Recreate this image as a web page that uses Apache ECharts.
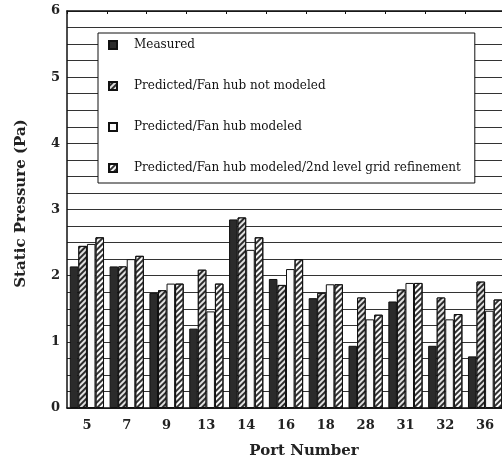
<!DOCTYPE html>
<html>
<head>
<meta charset="utf-8">
<script src="https://cdn.jsdelivr.net/npm/echarts@6/dist/echarts.min.js"></script>
<style>html,body{margin:0;padding:0;background:#fff}#c{width:502px;height:461px}</style>
</head>
<body>
<div id="c"></div>
<script>
var ports = ['5', '7', '9', '13', '14', '16', '18', '28', '31', '32', '36'];
var measured = [2.14, 2.14, 1.74, 1.20, 2.85, 1.95, 1.66, 0.94, 1.61, 0.94, 0.78];
var hubNotModeled = [2.45, 2.14, 1.78, 2.09, 2.88, 1.86, 1.74, 1.67, 1.79, 1.67, 1.91];
var hubModeled = [2.48, 2.25, 1.88, 1.46, 2.39, 2.10, 1.87, 1.34, 1.89, 1.34, 1.47];
var gridRefined = [2.58, 2.30, 1.88, 1.88, 2.58, 2.25, 1.87, 1.41, 1.89, 1.42, 1.64];
var seriesNames = ['Measured', 'Predicted/Fan hub not modeled', 'Predicted/Fan hub modeled', 'Predicted/Fan hub modeled/2nd level grid refinement'];
var yTicks = [0, 1, 2, 3, 4, 5, 6];

var font = 'DejaVu Serif';
var chart = echarts.init(document.getElementById('c'));
var hatchLight = {symbol: 'rect', dashArrayX: [1, 0], dashArrayY: [2, 2], rotation: -Math.PI / 4, color: 'rgba(255,255,255,0.85)'};
var hatchDark = {symbol: 'rect', dashArrayX: [1, 0], dashArrayY: [2, 2], rotation: -Math.PI / 4, color: '#333'};
function bar(name, data, fill, decal) {
  var s = {
    name: name, type: 'bar', data: data, barGap: '0%', barCategoryGap: '14%',
    itemStyle: {color: fill, borderColor: '#111', borderWidth: 1},
    emphasis: {disabled: true}
  };
  if (decal) s.itemStyle.decal = decal;
  return s;
}
chart.setOption({
  animation: false,
  backgroundColor: '#fff',
  grid: {left: 67, right: -3, top: 11, bottom: 53, outerBoundsMode: 'none', containLabel: false},
  legend: {
    orient: 'vertical', left: 98, top: 33,
    data: seriesNames,
    icon: 'rect',
    backgroundColor: '#fff', borderColor: '#111', borderWidth: 1,
    padding: [5, 14, 8, 10],
    itemWidth: 8, itemHeight: 8, itemGap: 27,
    textStyle: {fontFamily: font, fontSize: 12, color: '#111', lineHeight: 14, padding: [0, 0, 0, 12]},
    selectedMode: false
  },
  xAxis: [{
    type: 'category', data: ports, position: 'bottom',
    axisLine: {lineStyle: {color: '#111', width: 1.5}},
    axisTick: {show: false},
    axisLabel: {fontFamily: font, fontWeight: 'bold', fontSize: 13, color: '#222', margin: 11},
    name: 'Port Number', nameLocation: 'middle', nameGap: 36,
    nameTextStyle: {fontFamily: font, fontWeight: 'bold', fontSize: 15, color: '#222', padding: [0, 0, 0, 36]}
  }, {
    type: 'category', data: ports, position: 'top',
    axisLine: {lineStyle: {color: '#111', width: 1.5}},
    axisTick: {show: true, inside: true, length: 3, lineStyle: {color: '#111'}},
    axisLabel: {show: false}
  }],
  yAxis: {
    type: 'value', min: 0, max: 6, interval: 1,
    axisLine: {show: true, lineStyle: {color: '#111', width: 1.5}},
    axisTick: {show: false},
    axisLabel: {fontFamily: font, fontWeight: 'bold', fontSize: 13, color: '#222', margin: 7,
      formatter: function (v) { return yTicks.indexOf(v) >= 0 ? String(v) : ''; }},
    splitLine: {show: true, lineStyle: {color: '#333', width: 1}},
    minorTick: {show: false, splitNumber: 4},
    minorSplitLine: {show: true, lineStyle: {color: '#333', width: 1}},
    name: 'Static Pressure (Pa)', nameLocation: 'middle', nameGap: 38,
    nameTextStyle: {fontFamily: font, fontWeight: 'bold', fontSize: 15, color: '#222', padding: [0, 0, 0, 12]}
  },
  series: [
    bar(seriesNames[0], measured, '#2b2b2b', null),
    bar(seriesNames[1], hubNotModeled, '#2b2b2b', hatchLight),
    bar(seriesNames[2], hubModeled, '#fafafa', null),
    bar(seriesNames[3], gridRefined, '#fafafa', hatchDark)
  ]
});
</script>
</body>
</html>
